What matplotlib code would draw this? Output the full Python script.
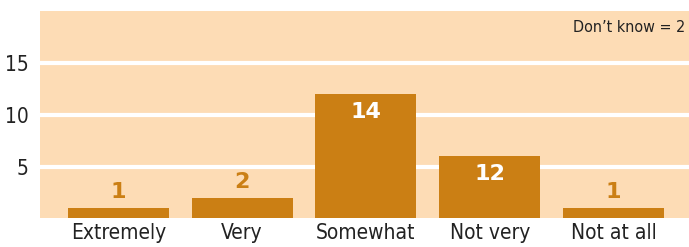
import matplotlib
matplotlib.use('Agg')
import matplotlib.pyplot as plt
from matplotlib.font_manager import FontProperties

categories = ['Extremely', 'Very', 'Somewhat', 'Not very', 'Not at all']
heights    = [1, 2, 12, 6, 1]          # bar heights as drawn
labels     = ['1', '2', '14', '12', '1']  # printed values
inside     = [False, False, True, True, False]
note       = 'Don\u2019t know = 2'

bar_col = '#CB7F14'
bg_col  = '#FDDCB5'

def tprop(s):
    return FontProperties(family='DejaVu Sans', stretch='condensed', size=s)

bprop = FontProperties(family='DejaVu Sans', weight='bold', stretch='normal', size=16)

fig = plt.figure(figsize=(6.89, 2.47), dpi=100)
ax = fig.add_axes([0.058, 0.1154, 0.942, 0.8401])
ax.set_facecolor(bg_col)

x = range(len(categories))
ax.bar(x, heights, width=0.815, color=bar_col, zorder=3)

for xi, h, lab, ins in zip(x, heights, labels, inside):
    if ins:
        ax.text(xi, h - 1.75, lab, ha='center', va='center', color='white',
                fontproperties=bprop, zorder=4)
    else:
        ax.text(xi, h + 1.55, lab, ha='center', va='center', color=bar_col,
                fontproperties=bprop, zorder=4)

ax.set_xlim(-0.633, 4.61)
ax.set_ylim(0, 20)
ax.set_yticks([5, 10, 15])
ax.set_xticks(list(x))
ax.set_xticklabels(categories, color='#222222', fontproperties=tprop(15))
ax.set_yticklabels(['5', '10', '15'], color='#222222', fontproperties=tprop(15))
ax.tick_params(axis='both', length=0)
ax.tick_params(axis='y', pad=8)
ax.tick_params(axis='x', pad=3)
ax.grid(axis='y', color='white', linewidth=3)
ax.set_axisbelow(True)
for s in ax.spines.values():
    s.set_visible(False)

ax.text(0.994, 0.92, note, transform=ax.transAxes, ha='right', va='center',
        color='#222222', fontproperties=tprop(11.5))

fig.savefig('out.png', dpi=100)
